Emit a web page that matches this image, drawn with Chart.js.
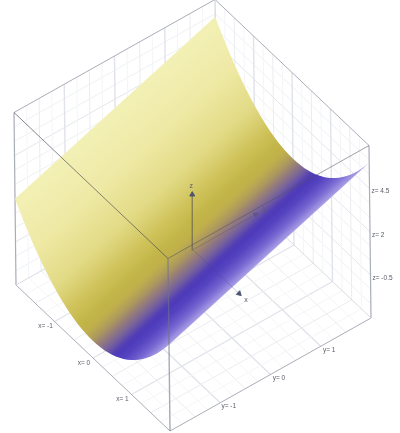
<!DOCTYPE html>
<html>
<head>
<meta charset="utf-8">
<script src="https://cdn.jsdelivr.net/npm/chart.js@4"></script>
<style>
  html, body { margin: 0; padding: 0; background: #fff; }
  canvas { display: block; filter: blur(0.4px); }
</style>
</head>
<body>
<canvas id="surface" width="400" height="433"></canvas>
<script>
// surface heights, one column per x, at the y = -2 and y = 2 ends
var xValues = [-2, -1.9, -1.8, -1.7, -1.6, -1.5, -1.4, -1.3, -1.2, -1.1, -1, -0.9, -0.8, -0.7, -0.6, -0.5, -0.4, -0.3, -0.2, -0.1, 0,
  0.1, 0.2, 0.3, 0.4, 0.5, 0.6, 0.7, 0.8, 0.9, 1, 1.1, 1.2, 1.3, 1.4, 1.5, 1.6, 1.7, 1.8, 1.9, 2];
var zFront = [2, 1.61, 1.24, 0.89, 0.56, 0.25, -0.04, -0.31, -0.56, -0.79, -1, -1.19, -1.36, -1.51, -1.64, -1.75, -1.84, -1.91, -1.96, -1.99, -2,
  -1.99, -1.96, -1.91, -1.84, -1.75, -1.64, -1.51, -1.36, -1.19, -1, -0.79, -0.56, -0.31, -0.04, 0.25, 0.56, 0.89, 1.24, 1.61, 2];
var zBack = [6, 5.61, 5.24, 4.89, 4.56, 4.25, 3.96, 3.69, 3.44, 3.21, 3, 2.81, 2.64, 2.49, 2.36, 2.25, 2.16, 2.09, 2.04, 2.01, 2,
  2.01, 2.04, 2.09, 2.16, 2.25, 2.36, 2.49, 2.64, 2.81, 3, 3.21, 3.44, 3.69, 3.96, 4.25, 4.56, 4.89, 5.24, 5.61, 6];

var xTicks = [-1, 0, 1];
var yTicks = [-1, 0, 1];
var zTicks = [-0.5, 2, 4.5];
var xRange = [-2, 2];
var yRange = [-2, 2];
var zRange = [-3, 7];

// box grid
var gridMajor = [-1, 0, 1];
var gridMid = [-1.5, -0.5, 0.5, 1.5];
var gridMinor = [-1.75, -1.25, -0.75, -0.25, 0.25, 0.75, 1.25, 1.75];
var zGrid = [-2.17, -1.33, -0.5, 0.33, 1.17, 2, 2.83, 3.67, 4.5, 5.33, 6.17];

var axisTips = { x: 1.2, y: 1.25, z: 3.2 };

// colour along x
var colorStops = [
  [-2, [243, 240, 182]], [-1.5, [238, 233, 164]], [-1, [226, 218, 133]], [-0.6, [206, 193, 88]],
  [-0.35, [194, 180, 70]], [-0.18, [192, 176, 76]], [0, [170, 150, 96]], [0.1, [155, 130, 115]],
  [0.33, [115, 95, 160]], [0.55, [75, 55, 185]], [0.8, [85, 68, 192]], [1.15, [115, 100, 208]], [1.5, [150, 137, 222]], [2, [178, 168, 233]]
];

function colorAt(x) {
  for (var i = 1; i < colorStops.length; i++) {
    if (x <= colorStops[i][0]) {
      var a = colorStops[i - 1], b = colorStops[i];
      var t = (x - a[0]) / (b[0] - a[0]);
      var c = a[1].map(function (v, k) { return Math.round(v + (b[1][k] - v) * t); });
      return 'rgb(' + c.join(',') + ')';
    }
  }
  return 'rgb(' + colorStops[colorStops.length - 1][1].join(',') + ')';
}

// box view: nearly parallel projection of the 3d axes
function project(x, y, z) {
  return {
    x: 192.9 + 38.5 * x + 50.25 * y - 0.2 * z,
    y: 249.75 + 36.5 * x - 28.25 * y - 17.25 * z
  };
}

var datasets = [];

function addLine(a, b, color, width, order) {
  datasets.push({
    data: [project(a[0], a[1], a[2]), project(b[0], b[1], b[2])],
    showLine: true, borderColor: color, borderWidth: width, pointRadius: 0, order: order, clip: false
  });
}

function addGrid(list, color, width) {
  list.forEach(function (v) {
    // floor
    addLine([v, yRange[0], zRange[0]], [v, yRange[1], zRange[0]], color, width, 5);
    addLine([xRange[0], v, zRange[0]], [xRange[1], v, zRange[0]], color, width, 5);
    // back walls
    addLine([xRange[0], v, zRange[0]], [xRange[0], v, zRange[1]], color, width, 5);
    addLine([v, yRange[1], zRange[0]], [v, yRange[1], zRange[1]], color, width, 5);
  });
}

addGrid(gridMinor, '#f4f5f7', 1);
addGrid(gridMid, '#ebecf0', 1);
addGrid(gridMajor, '#e1e3ea', 1.4);
zGrid.forEach(function (z) {
  var c = zTicks.indexOf(z) >= 0 ? '#e3e5ea' : '#eef0f3';
  addLine([xRange[0], yRange[0], z], [xRange[0], yRange[1], z], c, 1, 5);
  addLine([xRange[0], yRange[1], z], [xRange[1], yRange[1], z], c, 1, 5);
});

// box edges behind the surface
var x0 = xRange[0], x1 = xRange[1], y0 = yRange[0], y1 = yRange[1], z0 = zRange[0], z1 = zRange[1];
var edgeColor = '#a9adb8';
addLine([x0, y1, z0], [x0, y1, z1], '#d4d6de', 1.2, 4);
addLine([x0, y1, z0], [x0, y0, z0], '#d9dbe2', 1, 4);
addLine([x0, y1, z0], [x1, y1, z0], '#d9dbe2', 1, 4);
addLine([x0, y0, z1], [x0, y1, z1], edgeColor, 1, 4);
addLine([x0, y1, z1], [x1, y1, z1], edgeColor, 1, 4);
addLine([x0, y0, z0], [x0, y0, z1], edgeColor, 1.2, 4);
addLine([x1, y1, z0], [x1, y1, z1], edgeColor, 1.2, 4);
addLine([x0, y0, z0], [x1, y0, z0], edgeColor, 1, 4);
addLine([x1, y0, z0], [x1, y1, z0], edgeColor, 1, 4);

// surface outline: front curve forward, back curve reversed
var outline = [];
xValues.forEach(function (x, i) { outline.push(project(x, y0, zFront[i])); });
for (var i = xValues.length - 1; i >= 0; i--) outline.push(project(xValues[i], y1, zBack[i]));
datasets.push({ surface: true, data: outline, pointRadius: 0, order: 3, clip: false });

// axes through the origin, seen through the surface
addLine([0, 0, 0], [axisTips.x, 0, 0], 'rgba(70,70,110,0.28)', 1, 2);
addLine([0, 0, 0], [0, axisTips.y, 0], 'rgba(70,70,110,0.28)', 1, 2);
addLine([0, 0, 0], [0, 0, axisTips.z], 'rgba(90,85,85,0.6)', 1.4, 2);

function addArrow(p, rotation, color) {
  datasets.push({
    data: [project(p[0], p[1], p[2])],
    pointStyle: 'triangle', pointRadius: 2.9, rotation: rotation,
    pointBackgroundColor: color, pointBorderColor: color, order: 2, clip: false
  });
}
addArrow([axisTips.x, 0, 0], 133, '#4d5570');
addArrow([0, axisTips.y, 0], 61, 'rgba(90,80,130,0.5)');
addArrow([0, 0, axisTips.z], 0, '#4d5570');

// front edges of the box, over the surface
addLine([x0, y0, z1], [x1, y0, z1], 'rgba(70,72,85,0.65)', 1, 1);
addLine([x1, y0, z1], [x1, y1, z1], 'rgba(80,82,95,0.55)', 1, 1);
addLine([x1, y0, z1], [x1, y0, z0], 'rgba(110,115,135,0.6)', 1.4, 1);

var surfacePlugin = {
  id: 'surfacePlugin',
  beforeDatasetDraw: function (chart, args) {
    var ds = chart.data.datasets[args.index];
    if (!ds.surface) return;
    var pts = args.meta.data;
    var n = xValues.length;
    var ctx = chart.ctx;
    // colour only changes with x, and the lines of equal x are parallel:
    // one gradient square to them covers the whole sheet
    var last = pts.length - 1;
    var dx = pts[last].x - pts[0].x, dy = pts[last].y - pts[0].y;
    var len = Math.sqrt(dx * dx + dy * dy);
    var nx = -dy / len, ny = dx / len;
    var offs = [];
    for (var i = 0; i < n; i++) offs.push((pts[i].x - pts[0].x) * nx + (pts[i].y - pts[0].y) * ny);
    var span = offs[n - 1];
    var g = ctx.createLinearGradient(pts[0].x, pts[0].y, pts[0].x + nx * span, pts[0].y + ny * span);
    for (var i = 0; i < n; i++) g.addColorStop(Math.min(1, Math.max(0, offs[i] / span)), colorAt(xValues[i]));
    ctx.save();
    ctx.beginPath();
    ctx.moveTo(pts[0].x, pts[0].y);
    for (var k = 1; k < pts.length; k++) ctx.lineTo(pts[k].x, pts[k].y);
    ctx.closePath();
    ctx.fillStyle = g;
    ctx.fill();
    ctx.restore();
    return false;
  }
};

var labelPlugin = {
  id: 'labelPlugin',
  afterDraw: function (chart) {
    var ctx = chart.ctx;
    var sx = chart.scales.x, sy = chart.scales.y;
    function put(text, p, dx, dy, align, font) {
      var q = project(p[0], p[1], p[2]);
      ctx.font = font;
      ctx.textAlign = align;
      ctx.textBaseline = 'middle';
      ctx.fillText(text, sx.getPixelForValue(q.x) + dx, sy.getPixelForValue(q.y) + dy);
    }
    var tickFont = '6.5px "Liberation Sans"';
    ctx.save();
    ctx.fillStyle = '#5a5d68';
    xTicks.forEach(function (v) { put('x= ' + v, [v, y0, z0], -9, 5, 'center', tickFont); });
    yTicks.forEach(function (v) { put('y= ' + v, [x1, v, z0], 8.5, 3.5, 'center', tickFont); });
    zTicks.forEach(function (v) { put('z= ' + v, [x1, y1, v], 2, 3, 'left', tickFont); });
    put('x', [axisTips.x, 0, 0], 7, 7, 'center', '7px "Liberation Sans"');
    put('y', [0, axisTips.y, 0], 9, -5, 'center', '7px "Liberation Sans"');
    put('z', [0, 0, axisTips.z], -1, -8, 'center', '7px "Liberation Sans"');
    ctx.restore();
  }
};

new Chart('surface', {
  type: 'scatter',
  data: { datasets: datasets },
  options: {
    responsive: false,
    animation: false,
    layout: { padding: 0, autoPadding: false },
    plugins: { legend: { display: false }, tooltip: { enabled: false } },
    scales: {
      x: { type: 'linear', display: false, min: 0, max: 400 },
      y: { type: 'linear', display: false, min: 0, max: 433, reverse: true }
    }
  },
  plugins: [surfacePlugin, labelPlugin]
});
</script>
</body>
</html>
